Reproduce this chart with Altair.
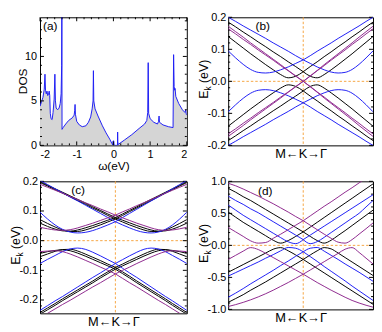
import altair as alt
import pandas as pd

FONT = "Liberation Sans"
BLUE = "#1f1ff5"
PURPLE = "#8e2a8e"
BLACK = "#000000"
ORANGE = "#f6a643"
GRAY = "#d5d5d5"
FS = 11
TFS = 12
ETFS = 12.5

# ---------------- panel (a): DOS ----------------
DOS_W = [-2.00, -1.96, -1.92, -1.885, -1.865, -1.85, -1.83, -1.81, -1.79, -1.77, -1.75, -1.735,
         -1.72, -1.70, -1.67, -1.645, -1.615, -1.595, -1.58, -1.56, -1.52, -1.48, -1.45, -1.425,
         -1.41, -1.405, -1.40, -1.37, -1.30, -1.22, -1.12, -1.07, -1.055, -1.045, -1.035, -1.00,
         -0.93, -0.85, -0.75, -0.68, -0.62, -0.58, -0.555, -0.545, -0.535, -0.50, -0.42, -0.30,
         -0.20, -0.10, -0.04, -0.02, -0.01, 0.01, 0.02, 0.11, 0.115, 0.12, 0.13, 0.30, 0.50,
         0.70, 0.85, 0.91, 0.935, 0.948, 0.96, 1.00, 1.10, 1.20, 1.23, 1.244, 1.255, 1.35, 1.50,
         1.625, 1.64, 1.655, 1.67, 1.68, 1.70, 1.78, 1.88, 1.95, 1.97, 1.985, 2.00]
DOS_V = [4.4, 4.9, 5.4, 6.3, 8.0, 6.2, 5.8, 6.1, 5.6, 5.7, 6.1, 5.6,
         3.6, 3.0, 2.9, 3.7, 5.2, 8.0, 5.0, 4.2, 4.0, 4.2, 4.7, 5.8,
         9.0, 16.0, 1.8, 2.0, 2.4, 2.8, 3.1, 3.4, 3.9, 4.6, 3.5, 2.7,
         2.3, 2.1, 2.2, 2.6, 3.2, 4.1, 5.0, 8.4, 5.0, 4.1, 3.3, 2.2,
         1.4, 0.7, 0.2, 0.05, 0.5, 0.5, 0.0, 0.0, 1.5, 0.4, 0.1, 0.6, 1.2,
         1.9, 2.4, 2.8, 3.7, 9.3, 3.6, 3.0, 2.6, 2.4, 2.7, 3.3, 2.6, 2.3, 2.1,
         2.0, 10.2, 6.6, 6.2, 6.4, 5.5, 4.7, 4.0, 3.7, 4.0, 3.5, 3.4]
A_XMAJOR = [-2, -1, 0, 1, 2]
A_XMINOR = [round(-2 + 0.2 * i, 1) for i in range(21) if i % 5]
A_YMAJOR = [0, 5, 10]
A_YMINOR = [1, 2, 3, 4, 6, 7, 8, 9, 11, 12, 13, 14]

# ---------------- band panels: values at normalised distance from K ----------------
K_GRID = [0.0, 0.1, 0.2, 0.3, 0.4, 0.5, 0.6, 0.7, 0.8, 0.9, 1.0]

# panel (b)
B_BLK_V_UP = [0.030, 0.046, 0.061, 0.077, 0.092, 0.108, 0.123, 0.139, 0.154, 0.170, 0.185]
B_BLK_H_UP = [0.030, 0.016, 0.011, 0.021, 0.036, 0.052, 0.069, 0.086, 0.104, 0.122, 0.140]
B_BLU_V_UP = [0.067, 0.080, 0.094, 0.107, 0.120, 0.134, 0.147, 0.160, 0.173, 0.187, 0.200]
B_BLU_H_UP = [0.067, 0.056, 0.045, 0.036, 0.029, 0.026, 0.028, 0.037, 0.053, 0.073, 0.095]
B_PUR_1_UP = [0.000, 0.017, 0.034, 0.052, 0.069, 0.086, 0.103, 0.120, 0.138, 0.155, 0.172]
B_PUR_2_UP = [0.000, 0.016, 0.033, 0.049, 0.066, 0.082, 0.098, 0.115, 0.131, 0.148, 0.164]
B_BLK_V_DN = [-0.030, -0.046, -0.061, -0.077, -0.092, -0.108, -0.123, -0.139, -0.154, -0.170, -0.185]
B_BLK_H_DN = [-0.030, -0.016, -0.011, -0.021, -0.036, -0.052, -0.069, -0.086, -0.104, -0.122, -0.140]
B_BLU_V_DN = [-0.067, -0.080, -0.094, -0.107, -0.120, -0.134, -0.147, -0.160, -0.173, -0.187, -0.200]
B_BLU_H_DN = [-0.067, -0.056, -0.045, -0.036, -0.029, -0.026, -0.028, -0.037, -0.053, -0.073, -0.095]
B_PUR_1_DN = [-0.000, -0.017, -0.034, -0.052, -0.069, -0.086, -0.103, -0.120, -0.138, -0.155, -0.172]
B_PUR_2_DN = [-0.000, -0.016, -0.033, -0.049, -0.066, -0.082, -0.098, -0.115, -0.131, -0.148, -0.164]

# panel (c)
C_BK1_V_UP = [0.078, 0.090, 0.102, 0.114, 0.127, 0.139, 0.151, 0.163, 0.175, 0.187, 0.199]
C_BK2_V_UP = [0.073, 0.085, 0.098, 0.110, 0.123, 0.135, 0.148, 0.160, 0.172, 0.184, 0.196]
C_BK1_H_UP = [0.078, 0.069, 0.060, 0.051, 0.043, 0.036, 0.032, 0.033, 0.039, 0.048, 0.059]
C_BK2_H_UP = [0.073, 0.063, 0.053, 0.044, 0.036, 0.031, 0.031, 0.036, 0.046, 0.058, 0.071]
C_BLU_V_UP = [0.064, 0.078, 0.092, 0.106, 0.120, 0.134, 0.147, 0.161, 0.175, 0.189, 0.203]
C_BLU_H_UP = [0.064, 0.053, 0.043, 0.034, 0.028, 0.026, 0.029, 0.038, 0.053, 0.073, 0.096]
C_PUR_V_UP = [0.086, 0.097, 0.107, 0.118, 0.128, 0.139, 0.149, 0.160, 0.170, 0.180, 0.190]
C_PUR_H_UP = [0.086, 0.077, 0.068, 0.059, 0.051, 0.043, 0.037, 0.035, 0.036, 0.040, 0.045]
C_BK1_V_DN = [-0.090, -0.105, -0.120, -0.136, -0.151, -0.166, -0.181, -0.196, -0.212, -0.227, -0.242]
C_BK2_V_DN = [-0.096, -0.111, -0.126, -0.142, -0.157, -0.172, -0.187, -0.202, -0.218, -0.233, -0.248]
C_BK1_H_DN = [-0.090, -0.079, -0.067, -0.056, -0.045, -0.035, -0.029, -0.030, -0.036, -0.045, -0.054]
C_BK2_H_DN = [-0.096, -0.085, -0.074, -0.063, -0.052, -0.042, -0.034, -0.031, -0.033, -0.037, -0.043]
C_BLU_V_DN = [-0.077, -0.093, -0.109, -0.124, -0.140, -0.156, -0.172, -0.188, -0.203, -0.219, -0.235]
C_BLU_H_DN = [-0.077, -0.064, -0.051, -0.039, -0.029, -0.025, -0.028, -0.037, -0.050, -0.063, -0.077]
C_PUR_V_DN = [-0.112, -0.127, -0.142, -0.156, -0.171, -0.186, -0.201, -0.215, -0.230, -0.245, -0.260]
C_PUR_H_DN = [-0.112, -0.100, -0.089, -0.077, -0.066, -0.055, -0.045, -0.037, -0.034, -0.035, -0.037]

# panel (d): left (towards M) and right (towards Gamma) read separately
D_BLK_V_UP_L = [0.21, 0.28, 0.35, 0.42, 0.49, 0.56, 0.63, 0.70, 0.76, 0.83, 0.89]
D_BLK_V_UP_R = [0.21, 0.285, 0.36, 0.435, 0.51, 0.585, 0.66, 0.735, 0.81, 0.885, 0.96]
D_BLK_H_UP_L = [0.21, 0.14, 0.075, 0.035, 0.08, 0.15, 0.22, 0.29, 0.36, 0.44, 0.52]
D_BLK_H_UP_R = [0.21, 0.14, 0.075, 0.035, 0.08, 0.155, 0.23, 0.31, 0.39, 0.47, 0.55]
D_BLU_V_UP_L = [0.09, 0.16, 0.23, 0.30, 0.37, 0.44, 0.51, 0.57, 0.64, 0.70, 0.77]
D_BLU_V_UP_R = [0.09, 0.16, 0.23, 0.30, 0.37, 0.44, 0.51, 0.58, 0.65, 0.72, 0.79]
D_BLU_H_UP_L = [0.09, 0.027, 0.056, 0.12, 0.19, 0.26, 0.33, 0.40, 0.47, 0.55, 0.63]
D_BLU_H_UP_R = [0.09, 0.027, 0.058, 0.125, 0.20, 0.275, 0.35, 0.425, 0.50, 0.60, 0.70]
D_PUR_V_UP_L = [0.385, 0.45, 0.52, 0.585, 0.65, 0.71, 0.77, 0.825, 0.88, 0.93, 0.97]
D_PUR_V_UP_R = [0.385, 0.46, 0.535, 0.61, 0.68, 0.755, 0.83, 0.90, 0.975, 1.05, 1.12]
D_PUR_H_UP_L = [0.385, 0.315, 0.245, 0.175, 0.11, 0.045, 0.035, 0.07, 0.14, 0.21, 0.28]
D_PUR_H_UP_R = [0.385, 0.315, 0.245, 0.175, 0.11, 0.05, 0.035, 0.09, 0.175, 0.26, 0.35]
D_BLK_V_DN_L = [-0.22, -0.29, -0.36, -0.43, -0.50, -0.57, -0.635, -0.70, -0.77, -0.83, -0.89]
D_BLK_V_DN_R = [-0.22, -0.29, -0.36, -0.43, -0.50, -0.57, -0.64, -0.71, -0.78, -0.85, -0.92]
D_BLK_H_DN_L = [-0.22, -0.15, -0.085, -0.035, -0.06, -0.12, -0.18, -0.24, -0.30, -0.36, -0.42]
D_BLK_H_DN_R = [-0.22, -0.15, -0.085, -0.035, -0.055, -0.12, -0.19, -0.26, -0.33, -0.40, -0.47]
D_BLU_V_DN_L = [-0.10, -0.17, -0.245, -0.315, -0.39, -0.46, -0.53, -0.60, -0.675, -0.745, -0.81]
D_BLU_V_DN_R = [-0.10, -0.175, -0.25, -0.33, -0.405, -0.48, -0.555, -0.635, -0.71, -0.785, -0.86]
D_BLU_H_DN_L = [-0.10, -0.045, -0.033, -0.085, -0.145, -0.20, -0.26, -0.315, -0.37, -0.425, -0.48]
D_BLU_H_DN_R = [-0.10, -0.045, -0.033, -0.09, -0.155, -0.22, -0.29, -0.355, -0.42, -0.49, -0.56]
D_PUR_V_DN_L = [-0.45, -0.515, -0.58, -0.64, -0.70, -0.755, -0.805, -0.85, -0.89, -0.925, -0.955]
D_PUR_V_DN_R = [-0.45, -0.515, -0.58, -0.64, -0.70, -0.755, -0.81, -0.86, -0.90, -0.935, -0.965]
D_PUR_H_DN_L = [-0.45, -0.385, -0.32, -0.255, -0.19, -0.125, -0.065, -0.035, -0.09, -0.155, -0.22]
D_PUR_H_DN_R = [-0.45, -0.385, -0.32, -0.255, -0.19, -0.125, -0.06, -0.035, -0.11, -0.20, -0.29]

B_BANDS = [(BLACK, "B", B_BLK_V_UP), (BLACK, "B", B_BLK_H_UP), (BLACK, "B", B_BLK_V_DN), (BLACK, "B", B_BLK_H_DN),
           (BLUE, "B", B_BLU_V_UP), (BLUE, "B", B_BLU_H_UP), (BLUE, "B", B_BLU_V_DN), (BLUE, "B", B_BLU_H_DN),
           (PURPLE, "B", B_PUR_1_UP), (PURPLE, "B", B_PUR_2_UP), (PURPLE, "B", B_PUR_1_DN), (PURPLE, "B", B_PUR_2_DN)]
C_BANDS = [(BLACK, "B", C_BK1_V_UP), (BLACK, "B", C_BK2_V_UP), (BLACK, "B", C_BK1_H_UP), (BLACK, "B", C_BK2_H_UP),
           (BLACK, "B", C_BK1_V_DN), (BLACK, "B", C_BK2_V_DN), (BLACK, "B", C_BK1_H_DN), (BLACK, "B", C_BK2_H_DN),
           (BLUE, "B", C_BLU_V_UP), (BLUE, "B", C_BLU_H_UP), (BLUE, "B", C_BLU_V_DN), (BLUE, "B", C_BLU_H_DN),
           (PURPLE, "B", C_PUR_V_UP), (PURPLE, "B", C_PUR_H_UP), (PURPLE, "B", C_PUR_V_DN), (PURPLE, "B", C_PUR_H_DN)]
D_BANDS = [(BLACK, "L", D_BLK_V_UP_L), (BLACK, "R", D_BLK_V_UP_R), (BLACK, "L", D_BLK_H_UP_L), (BLACK, "R", D_BLK_H_UP_R),
           (BLACK, "L", D_BLK_V_DN_L), (BLACK, "R", D_BLK_V_DN_R), (BLACK, "L", D_BLK_H_DN_L), (BLACK, "R", D_BLK_H_DN_R),
           (BLUE, "L", D_BLU_V_UP_L), (BLUE, "R", D_BLU_V_UP_R), (BLUE, "L", D_BLU_H_UP_L), (BLUE, "R", D_BLU_H_UP_R),
           (BLUE, "L", D_BLU_V_DN_L), (BLUE, "R", D_BLU_V_DN_R), (BLUE, "L", D_BLU_H_DN_L), (BLUE, "R", D_BLU_H_DN_R),
           (PURPLE, "L", D_PUR_V_UP_L), (PURPLE, "R", D_PUR_V_UP_R), (PURPLE, "L", D_PUR_H_UP_L), (PURPLE, "R", D_PUR_H_UP_R),
           (PURPLE, "L", D_PUR_V_DN_L), (PURPLE, "R", D_PUR_V_DN_R), (PURPLE, "L", D_PUR_H_DN_L), (PURPLE, "R", D_PUR_H_DN_R)]

BC_YMAJOR = [-0.2, -0.1, 0.0, 0.1, 0.2]
B_YMINOR = [round(-0.2 + 0.02 * i, 2) for i in range(21) if i % 5]
C_YMINOR = [round(-0.24 + 0.02 * i, 2) for i in range(23) if (i + 3) % 5]
D_YMAJOR = [-1.0, -0.5, 0.0, 0.5, 1.0]
D_YMINOR = [round(-1 + 0.1 * i, 1) for i in range(21) if i % 5]

MINUS_FIX = "replace(format(datum.value, '{}'), '\u2212', '-')"
MAJ, MIN = 4, 2


def txt(s, **kw):
    return alt.Chart(pd.DataFrame({"t": [s]})).mark_text(font=FONT, color="black", **kw)


def yticks(Y, vals, length, W):
    df = pd.DataFrame({"v": vals})
    left = alt.Chart(df).mark_rule(color="black", strokeWidth=1).encode(
        y=Y("v"), x=alt.value(0), x2=alt.value(length))
    right = alt.Chart(df).mark_rule(color="black", strokeWidth=1).encode(
        y=Y("v"), x=alt.value(W), x2=alt.value(W - length))
    return [left, right]


def xticks(X, vals, length, H):
    df = pd.DataFrame({"v": vals})
    bot = alt.Chart(df).mark_rule(color="black", strokeWidth=1).encode(
        x=X("v"), y=alt.value(H), y2=alt.value(H - length))
    top = alt.Chart(df).mark_rule(color="black", strokeWidth=1).encode(
        x=X("v"), y=alt.value(0), y2=alt.value(length))
    return [bot, top]


def ek_title(H):
    y0 = H / 2 + 17.8
    xb = -20
    return [
        txt("E", angle=270, align="left", baseline="alphabetic", fontSize=ETFS).encode(
            text="t:N", x=alt.value(xb), y=alt.value(y0)),
        txt("k", angle=270, align="left", baseline="alphabetic", fontSize=8.5).encode(
            text="t:N", x=alt.value(xb + 2.7), y=alt.value(y0 - 8.5)),
        txt("(eV)", angle=270, align="left", baseline="alphabetic", fontSize=ETFS).encode(
            text="t:N", x=alt.value(xb), y=alt.value(y0 - 16.1)),
    ]


def band_panel(bands, rfrac, ydom, ymajor, yminor, W, H, tag, tagx, tagy):
    rows = []
    for i, (col, side, vals) in enumerate(bands):
        for s in (["L", "R"] if side == "B" else [side]):
            for k, v in zip(K_GRID, vals):
                rows.append({"x": -k if s == "L" else k * rfrac, "y": v,
                             "id": f"{i:02d}{s}", "c": col})
    df = pd.DataFrame(rows)
    xscale = alt.Scale(domain=[-1, rfrac], nice=False, zero=False)
    yscale = alt.Scale(domain=ydom, nice=False, zero=False)
    xaxis = alt.Axis(title="M\u2190K\u2192\u0393", labels=False, ticks=False, domain=False,
                     grid=False, titleFontSize=13, titlePadding=2.5, titleFontWeight="normal")
    yaxis = alt.Axis(title=None, values=ymajor, labelExpr=MINUS_FIX.format(".1f"), ticks=False,
                     domain=False, grid=False, labelPadding=2.5, labelFontSize=FS)

    def X(f):
        return alt.X(f"{f}:Q", scale=xscale, axis=xaxis)

    def Y(f):
        return alt.Y(f"{f}:Q", scale=yscale, axis=yaxis)

    hline = alt.Chart(pd.DataFrame({"y": [0.0]})).mark_rule(
        color=ORANGE, strokeDash=[2.5, 2], strokeWidth=1).encode(y=Y("y"))
    vline = alt.Chart(pd.DataFrame({"x": [0.0]})).mark_rule(
        color=ORANGE, strokeDash=[2.5, 2], strokeWidth=1).encode(x=X("x"))
    lines = alt.Chart(df).mark_line(strokeWidth=1, interpolate="monotone", clip=True).encode(
        x=X("x"), y=Y("y"), detail="id:N", color=alt.Color("c:N", scale=None))
    label = txt(tag, align="left", baseline="middle", fontSize=TFS).encode(
        text="t:N", x=alt.value(tagx), y=alt.value(tagy))
    layers = [hline, vline] + yticks(Y, ymajor, MAJ, W) + yticks(Y, yminor, MIN, W) + [lines, label] + ek_title(H)
    return alt.layer(*layers).properties(width=W, height=H)


def dos_panel(W, H):
    df = pd.DataFrame({"w": DOS_W, "d": DOS_V})
    xscale = alt.Scale(domain=[-2, 2], nice=False, zero=False)
    yscale = alt.Scale(domain=[0, 14.4], nice=False, zero=False)
    xaxis = alt.Axis(title="\u03c9(eV)", values=A_XMAJOR, labelExpr=MINUS_FIX.format("d"), ticks=False,
                     domain=False, grid=False, labelPadding=3, titlePadding=1.5, labelFontSize=FS,
                     titleFontSize=TFS, titleFontWeight="normal")
    yaxis = alt.Axis(title=None, values=A_YMAJOR, format="d", ticks=False, domain=False, grid=False,
                     labelPadding=3.5, labelFontSize=FS)

    def X(f):
        return alt.X(f"{f}:Q", scale=xscale, axis=xaxis)

    def Y(f):
        return alt.Y(f"{f}:Q", scale=yscale, axis=yaxis)

    area = alt.Chart(df).mark_area(color=GRAY, clip=True).encode(x=X("w"), y=Y("d"))
    line = alt.Chart(df).mark_line(color=BLUE, strokeWidth=1, clip=True).encode(x=X("w"), y=Y("d"))
    label = txt("(a)", align="left", baseline="middle", fontSize=TFS).encode(
        text="t:N", x=alt.value(3), y=alt.value(9.3))
    title = txt("DOS", angle=270, align="center", baseline="alphabetic", fontSize=TFS).encode(
        text="t:N", x=alt.value(-13.5), y=alt.value(H / 2))
    layers = [area, line] + yticks(Y, A_YMAJOR, MAJ, W) + yticks(Y, A_YMINOR, MIN, W) \
        + xticks(X, A_XMAJOR, MAJ, H) + xticks(X, A_XMINOR, MIN, H) + [label, title]
    return alt.layer(*layers).properties(width=W, height=H)


pa = dos_panel(149, 130)
pb = band_panel(B_BANDS, 0.93, [-0.2, 0.2], BC_YMAJOR, B_YMINOR, 147, 130, "(b)", 27.7, 9)
pc = band_panel(C_BANDS, 0.948, [-0.245, 0.2], BC_YMAJOR, C_YMINOR, 149, 134, "(c)", 31.7, 9.3)
pd_ = band_panel(D_BANDS, 0.93, [-1.0, 1.0], D_YMAJOR, D_YMINOR, 147, 130, "(d)", 30.3, 9.8)

chart = alt.concat(pa, pb, pc, pd_, columns=2, spacing={"row": 36.5, "column": 42},
                   bounds="flush").properties(
    padding={"left": 1.5, "top": 0, "right": 0, "bottom": 0}
).configure_view(stroke="black", strokeWidth=1).configure_axis(
    labelFont=FONT, titleFont=FONT, labelColor="black", titleColor="black"
)

chart.save("out.html", embed_options={"renderer": "svg", "actions": False})
